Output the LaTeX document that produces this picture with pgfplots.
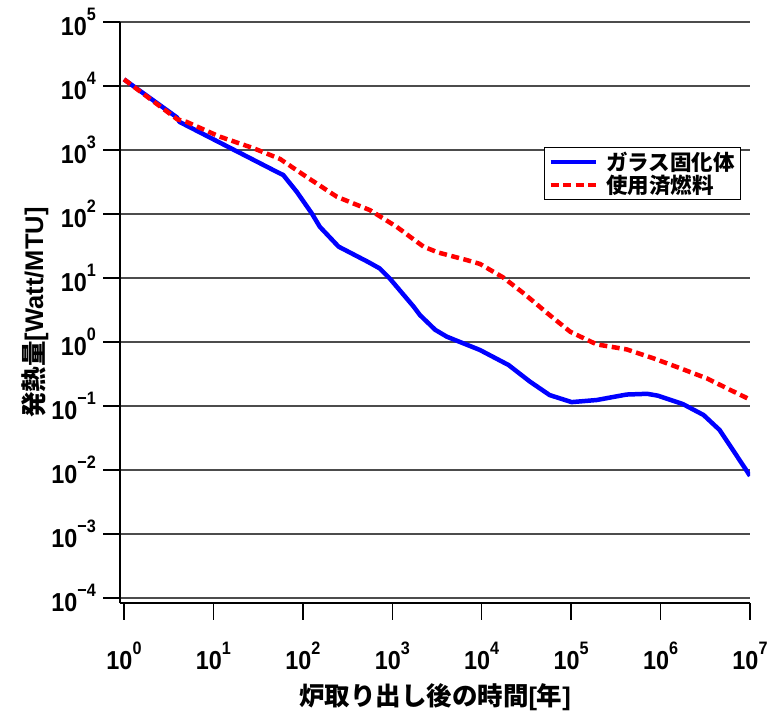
\documentclass[border=0pt]{standalone}
\usepackage{fontspec}
\setmainfont{Liberation Sans}
\newfontfamily\tickfont{Liberation Sans}[FakeStretch=0.9]
\newfontfamily\cjk{Noto Sans CJK JP}
\usepackage{pgfplots}
\pgfplotsset{compat=1.18}
\newcommand{\tl}[1]{10\raisebox{14.5bp}{\fontsize{18bp}{18bp}\selectfont #1}}
\begin{document}
\begin{tikzpicture}
\begin{axis}[
  name=ax,
  scale only axis, width=630bp, height=581bp,
  xmode=log, ymode=log,
  xmin=0.9022, xmax=1e7, ymin=8.35e-5, ymax=1e5,
  axis lines=left,
  axis line style={-, line width=1.5bp, black},
  tick align=outside, major tick length=17bp,
  tick style={black, line width=1.5bp},
  xminorticks=false, yminorticks=false,
  xtick={1,10,100,1000,10000,100000,1000000,10000000},
  xticklabels={\tl{0},\tl{1},\tl{2},\tl{3},\tl{4},\tl{5},\tl{6},\tl{7}},
  ytick={1e-4,1e-3,1e-2,1e-1,1,10,100,1000,10000,100000},
  yticklabels={\tl{−4},\tl{−3},\tl{−2},\tl{−1},\tl{0},\tl{1},\tl{2},\tl{3},\tl{4},\tl{5}},
  ymajorgrids, grid style={black!70, line width=1.2bp},
  tick label style={font=\tickfont\fontsize{26bp}{28bp}\selectfont\bfseries, inner sep=0bp},
  xticklabel style={yshift=-22bp},
  yticklabel style={xshift=-7bp},
  xlabel={\cjk 炉取り出し後の時間\normalfont\bfseries[\cjk 年\normalfont\bfseries]},
  ylabel={\cjk 発熱量\normalfont\bfseries[Watt/MTU]},
  label style={font=\fontsize{25.5bp}{28bp}\selectfont\bfseries},
  xlabel style={at={(axis description cs:0.5,-0.162)}, anchor=center},
  ylabel style={at={(axis description cs:-0.135,0.5)}, anchor=center},
  legend style={at={(rel axis cs:0.9857,0.785)}, anchor=north east,
    draw=black, line width=1bp, inner xsep=4bp, inner ysep=3bp,
    font=\fontsize{21.5bp}{23bp}\selectfont\bfseries\cjk,
    nodes={inner sep=1.5bp}},
  legend cell align=left,
  legend image code/.code={\draw[#1] (0bp,0bp) -- (45bp,0bp); \path (52bp,0bp);},
]
\addplot[blue, line width=4.5bp, line join=round] coordinates {
(1,12700) (3.9,3240) (4.17,2750) (50.9,457) (60.3,407) (85.1,224) (126,102)
(155,63) (251,30.9) (537,17.8) (724,14.1) (933,9.9) (1738,3.55) (2042,2.63)
(3020,1.55) (4074,1.21) (9550,0.75) (19950,0.437) (34670,0.24) (57540,0.148)
(101400,0.115) (193000,0.124) (417000,0.151) (708000,0.155) (933000,0.145)
(1780000,0.107) (3020000,0.0724) (4570000,0.0422) (6460000,0.0204) (10000000,0.0081)
};
\addlegendentry{ガラス固化体}
\addplot[red, line width=4.5bp, dash pattern=on 8bp off 4.5bp] coordinates {
(1,12700) (3.94,3020) (5.01,2750) (11.7,1620) (27.9,1070) (55.6,724) (110,380)
(240,186) (562,115) (1122,63) (1862,37.2) (2239,30.9) (3236,25.1) (6761,19.1)
(9550,16.6) (17380,10.2) (29510,5.75) (57540,2.63) (97700,1.445) (193000,0.918)
(417000,0.767) (832000,0.556) (1660000,0.389) (3310000,0.269) (6030000,0.178)
(10000000,0.126)
};
\addlegendentry{使用済燃料}
\end{axis}
\pgfresetboundingbox
\path[use as bounding box] ([xshift=-120bp,yshift=-118bp]ax.south west) rectangle ([xshift=24bp,yshift=22bp]ax.north east);
\end{tikzpicture}
\end{document}
